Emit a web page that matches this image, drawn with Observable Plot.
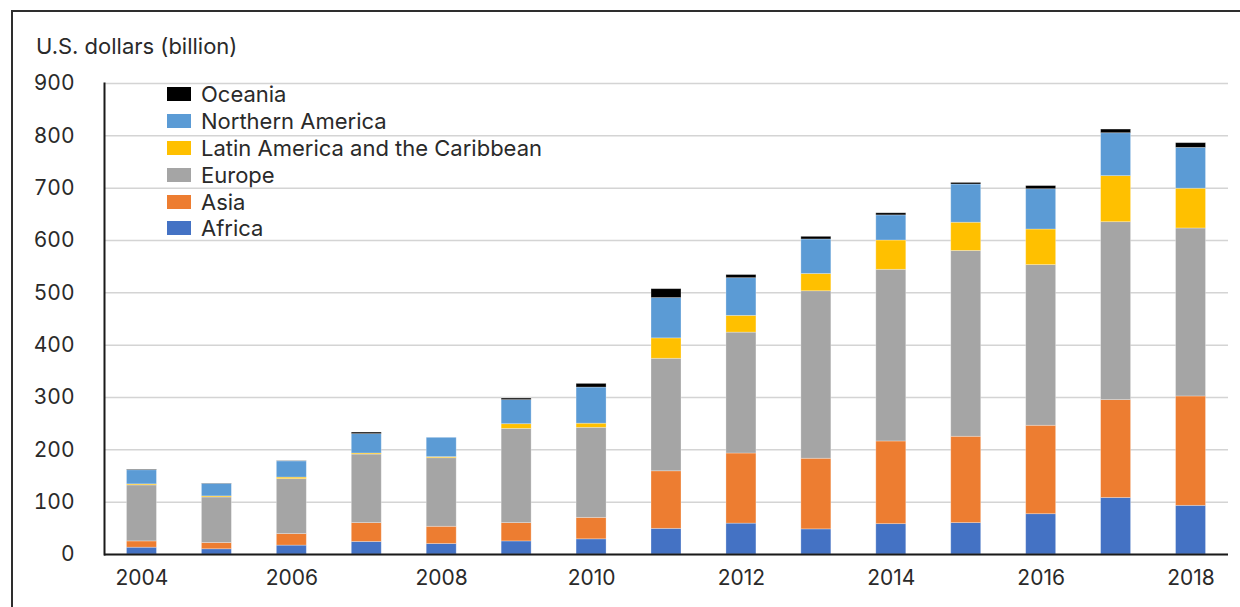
<!DOCTYPE html>
<html>
<head>
<meta charset="utf-8">
<script src="https://cdn.jsdelivr.net/npm/d3@7"></script>
<script src="https://cdn.jsdelivr.net/npm/@observablehq/plot@0.6"></script>
<style>
  html, body { margin: 0; padding: 0; background: #fff; }
  body { width: 1240px; height: 607px; overflow: hidden; position: relative; font-family: Inter, "Noto Sans", sans-serif; color: #2a2a2a; }
  #frame { position: absolute; left: 11px; top: 10px; width: 1240px; height: 620px; border-top: 2px solid #2e2e2e; border-left: 2px solid #2e2e2e; pointer-events: none; }
  #ytitle { position: absolute; left: 36px; top: 33px; font-size: 22px; line-height: 26px; white-space: nowrap; }
  #legend { position: absolute; left: 167px; top: 81px; font-size: 22px; }
  .row { display: flex; align-items: center; height: 26.8px; }
  .sw { width: 24px; height: 14px; margin-right: 10px; flex: none; }
  #chart { position: absolute; left: 0; top: 0; }
</style>
</head>
<body>
<div id="chart"></div>
<div id="frame"></div>
<div id="ytitle">U.S. dollars (billion)</div>
<div id="legend"></div>
<script>
const years = [2004, 2005, 2006, 2007, 2008, 2009, 2010, 2011, 2012, 2013, 2014, 2015, 2016, 2017, 2018];
const regions = ["Africa", "Asia", "Europe", "Latin America and the Caribbean", "Northern America", "Oceania"];
const colors = ["#4472C4", "#ED7D31", "#A5A5A5", "#FFC000", "#5B9BD5", "#000000"];
const africa   = [13, 10, 17, 24, 20, 25, 29, 49, 59, 48, 58, 60, 77, 108, 93];
const asia     = [12, 12, 22, 36, 33, 35, 41, 110, 134, 135, 158, 165, 169, 187, 209];
const europe   = [107, 87, 105, 131, 131, 180, 172, 215, 231, 320, 328, 355, 307, 340, 321];
const latin    = [2, 2, 3, 2, 2, 9, 8, 39, 32, 33, 56, 54, 68, 88, 76];
const northAm  = [27, 24, 31, 37, 37, 46, 69, 77, 72, 66, 48, 73, 77, 82, 78];
const oceania  = [1, 0.5, 0.5, 3, 0, 3, 7, 17, 6, 5, 4, 3, 6, 7, 9];
const yTicks = [0, 100, 200, 300, 400, 500, 600, 700, 800, 900];
const xTicks = [2004, 2006, 2008, 2010, 2012, 2014, 2016, 2018];

const series = [africa, asia, europe, latin, northAm, oceania];
const data = [];
years.forEach((yr, i) => {
  regions.forEach((r, j) => data.push({year: yr, region: r, value: series[j][i]}));
});

const plot = Plot.plot({
  width: 1240,
  height: 607,
  marginLeft: 104,
  marginRight: 12,
  marginTop: 83,
  marginBottom: 53,
  style: {fontFamily: "Inter, 'Noto Sans', sans-serif", fontSize: "21px", color: "#2a2a2a", background: "transparent"},
  x: {type: "band", domain: years, paddingInner: 0.6, paddingOuter: 0.3, round: false, label: null},
  y: {domain: [0, 900], label: null},
  color: {domain: regions, range: colors},
  marks: [
    Plot.gridY(yTicks, {stroke: "#d4d4d4", strokeOpacity: 1, strokeWidth: 1.5}),
    Plot.barY(data, {x: "year", y: "value", fill: "region", stroke: "#ffffff", strokeOpacity: 0.35, strokeWidth: 0.8}),
    Plot.axisY(yTicks, {tickSize: 0, tickPadding: 30, label: null, fill: "#2a2a2a"}),
    Plot.axisX(xTicks, {tickSize: 0, tickPadding: 16, label: null, fill: "#2a2a2a", tickFormat: d => String(d)}),
    Plot.frame({anchor: "left", stroke: "#1a1a1a", strokeWidth: 2}),
    Plot.ruleY([0], {stroke: "#1a1a1a", strokeWidth: 2})
  ]
});
document.getElementById("chart").appendChild(plot);

const legend = document.getElementById("legend");
regions.slice().reverse().forEach(r => {
  const row = document.createElement("div");
  row.className = "row";
  const sw = document.createElement("div");
  sw.className = "sw";
  sw.style.background = colors[regions.indexOf(r)];
  const t = document.createElement("span");
  t.textContent = r;
  row.appendChild(sw);
  row.appendChild(t);
  legend.appendChild(row);
});
</script>
</body>
</html>
